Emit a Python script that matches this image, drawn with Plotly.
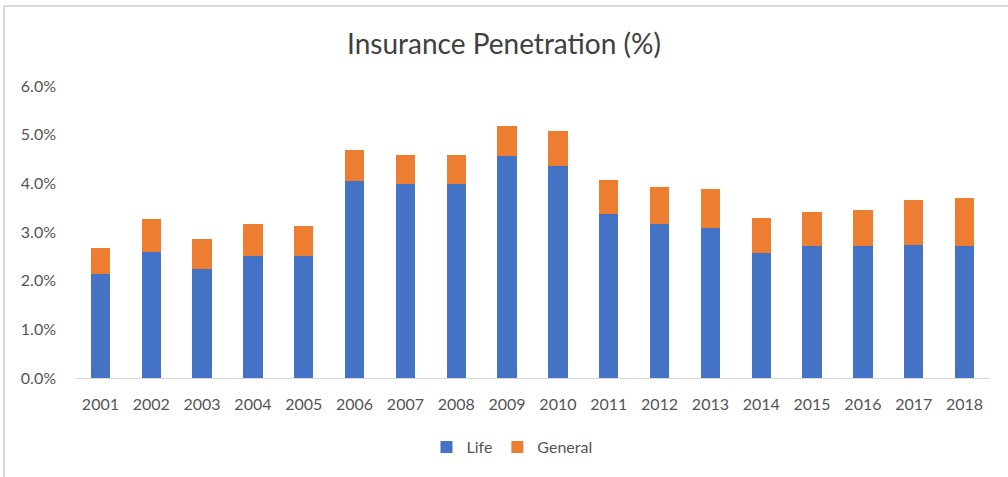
import plotly.graph_objects as go

years = ["2001", "2002", "2003", "2004", "2005", "2006", "2007", "2008", "2009",
         "2010", "2011", "2012", "2013", "2014", "2015", "2016", "2017", "2018"]
life = [2.13, 2.58, 2.24, 2.50, 2.50, 4.05, 3.98, 3.98, 4.56,
        4.36, 3.38, 3.16, 3.09, 2.57, 2.71, 2.71, 2.74, 2.71]
general = [0.55, 0.68, 0.61, 0.66, 0.62, 0.63, 0.60, 0.60, 0.62,
           0.72, 0.69, 0.77, 0.80, 0.72, 0.71, 0.75, 0.92, 0.98]
y_ticks = [0, 1, 2, 3, 4, 5, 6]
y_tick_labels = ["0.0%", "1.0%", "2.0%", "3.0%", "4.0%", "5.0%", "6.0%"]

FONT = "Lato"
TXT = "#555555"

fig = go.Figure()
fig.add_trace(go.Bar(x=years, y=life, name="Life", marker_color="#4472C4",
                     marker_line_width=0))
fig.add_trace(go.Bar(x=years, y=general, name="General", marker_color="#ED7D31",
                     marker_line_width=0))

L, R, T, B = 75, 18, 86, 99
W, H = 1008, 477
pw, ph = W - L - R, H - T - B

def px(x):
    return (x - L) / pw

def py(y):
    return (H - B - y) / ph

fig.update_layout(
    width=W, height=H,
    margin=dict(l=L, r=R, t=T, b=B),
    barmode="stack",
    bargap=0.62,
    plot_bgcolor="white",
    paper_bgcolor="white",
    font=dict(family=FONT, color=TXT, size=16),
    title=dict(text="Insurance Penetration (%)", x=0.5, xanchor="center",
               y=1 - 44 / H, yanchor="middle",
               font=dict(family=FONT, size=28, color="#404040")),
    xaxis=dict(showgrid=False, showline=True, linecolor="#D9D9D9", linewidth=1,
               ticks="", ticklabelstandoff=12, tickfont=dict(size=16, color=TXT)),
    yaxis=dict(range=[0, 6], tickvals=y_ticks, ticktext=y_tick_labels,
               showgrid=False, zeroline=False, showline=False, ticks="",
               ticklabelstandoff=18,
               tickfont=dict(size=16, color=TXT)),
    legend=dict(orientation="h", x=px(512), xanchor="center", y=py(447), yanchor="middle",
                font=dict(size=16, color=TXT), itemwidth=30, tracegroupgap=0,
                traceorder="normal"),
    shapes=[
        dict(type="line", xref="paper", yref="paper", x0=px(4), x1=px(1008),
             y0=py(6), y1=py(6), line=dict(color="#D9D9D9", width=2)),
        dict(type="line", xref="paper", yref="paper", x0=px(4), x1=px(4),
             y0=py(6), y1=py(477), line=dict(color="#D9D9D9", width=2)),
    ],
)

fig.write_html("out.html")
